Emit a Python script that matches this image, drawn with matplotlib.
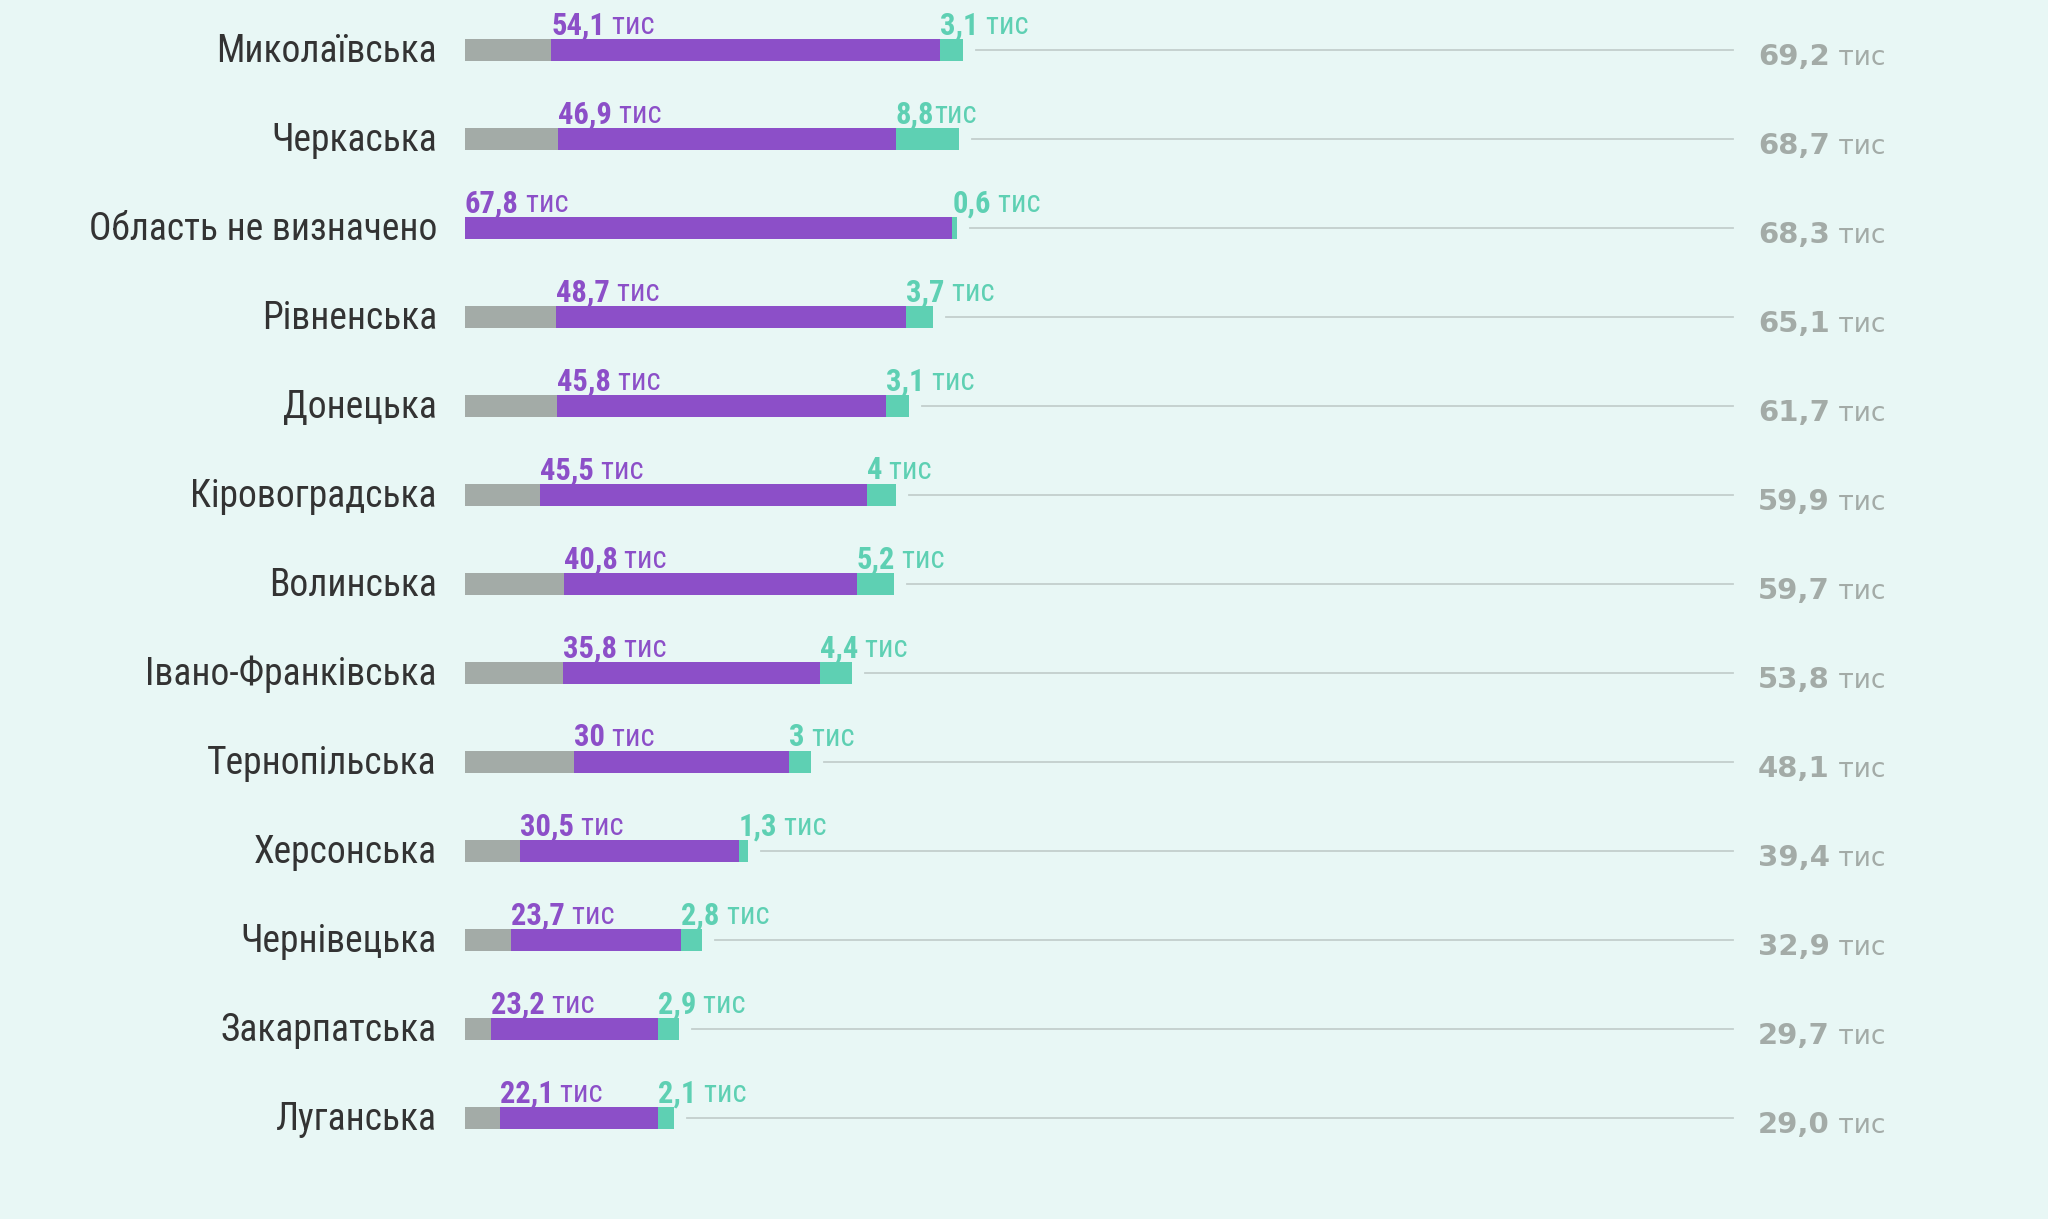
import matplotlib
matplotlib.use("Agg")
import matplotlib.pyplot as plt
from matplotlib import font_manager

# regions, top to bottom
regions = ["Миколаївська", "Черкаська", "Область не визначено", "Рівненська",
           "Донецька", "Кіровоградська", "Волинська", "Івано-Франківська",
           "Тернопільська", "Херсонська", "Чернівецька", "Закарпатська", "Луганська"]
purple_vals = [54.1, 46.9, 67.8, 48.7, 45.8, 45.5, 40.8, 35.8, 30.0, 30.5, 23.7, 23.2, 22.1]
purple_txt = ["54,1", "46,9", "67,8", "48,7", "45,8", "45,5", "40,8", "35,8", "30", "30,5", "23,7", "23,2", "22,1"]
teal_vals = [3.1, 8.8, 0.6, 3.7, 3.1, 4.0, 5.2, 4.4, 3.0, 1.3, 2.8, 2.9, 2.1]
teal_txt = ["3,1", "8,8", "0,6", "3,7", "3,1", "4", "5,2", "4,4", "3", "1,3", "2,8", "2,9", "2,1"]
totals = [69.2, 68.7, 68.3, 65.1, 61.7, 59.9, 59.7, 53.8, 48.1, 39.4, 32.9, 29.7, 29.0]
total_txt = ["69,2", "68,7", "68,3", "65,1", "61,7", "59,9", "59,7", "53,8", "48,1", "39,4", "32,9", "29,7", "29,0"]

GRAY = "#a3aba7"
PURPLE = "#8c4fc8"
TEAL = "#5ed0b3"
BG = "#e8f7f5"
LINE = "#c3cfcd"
TXT = "#333333"

names = {f.name for f in font_manager.fontManager.ttflist}
narrow = [f for f in ["Roboto Condensed", "Liberation Sans Narrow", "DejaVu Sans Condensed"] if f in names]
label_font = narrow + ["Open Sans", "DejaVu Sans"]

W, H = 2048, 1219
fig = plt.figure(figsize=(W / 100, H / 100), dpi=100, facecolor=BG)
ax = fig.add_axes([0, 0, 1, 1])
ax.set_facecolor(BG)

px_unit = 7.19      # pixels per thousand
x0 = 465            # bar start px
row0, step = 49.6, 89.0
ax.set_xlim(-x0 / px_unit, (W - x0) / px_unit)
ax.set_ylim((H - row0) / step, -row0 / step)
ax.axis("off")

bh = 22 / step
line_end = (1733 - x0) / px_unit
total_x = (1758 - x0) / px_unit
gap = 13 / px_unit

fig.canvas.draw()
rend = fig.canvas.get_renderer()


def two_part(x, y, bold, light, color, size, fam, sep=" ", lsize=None):
    t = ax.text(x, y, bold, color=color, fontsize=size, fontweight="bold",
                family=fam, va="baseline", ha="left")
    bb = t.get_window_extent(renderer=rend)
    xd = ax.transData.inverted().transform((bb.x1, 0))[0]
    ax.text(xd, y, sep + light, color=color, fontsize=lsize or size, family=fam,
            va="baseline", ha="left")


for i, reg in enumerate(regions):
    p, t, tot = purple_vals[i], teal_vals[i], totals[i]
    g = max(0.0, tot - p - t)
    ax.barh(i, g, height=bh, left=0, color=GRAY)
    ax.barh(i, p, height=bh, left=g, color=PURPLE)
    ax.barh(i, t, height=bh, left=g + p, color=TEAL)
    end = g + p + t
    ax.plot([end + gap, line_end], [i, i], color=LINE, lw=1.3)

    ax.text(-28 / px_unit, i + 0.02, reg, ha="right", va="center", fontsize=27,
            color=TXT, family=label_font)

    yb = i - bh / 2 - 0.05
    two_part(g, yb, purple_txt[i], "тис", PURPLE, 22, label_font)
    sep = "" if reg == "Черкаська" else " "
    two_part(g + p, yb, teal_txt[i], "тис", TEAL, 22, label_font, sep)

    two_part(total_x, i + 0.17, total_txt[i], "тис", GRAY, 21, ["DejaVu Sans"], lsize=19)

fig.savefig("out.png", dpi=100, facecolor=BG)
